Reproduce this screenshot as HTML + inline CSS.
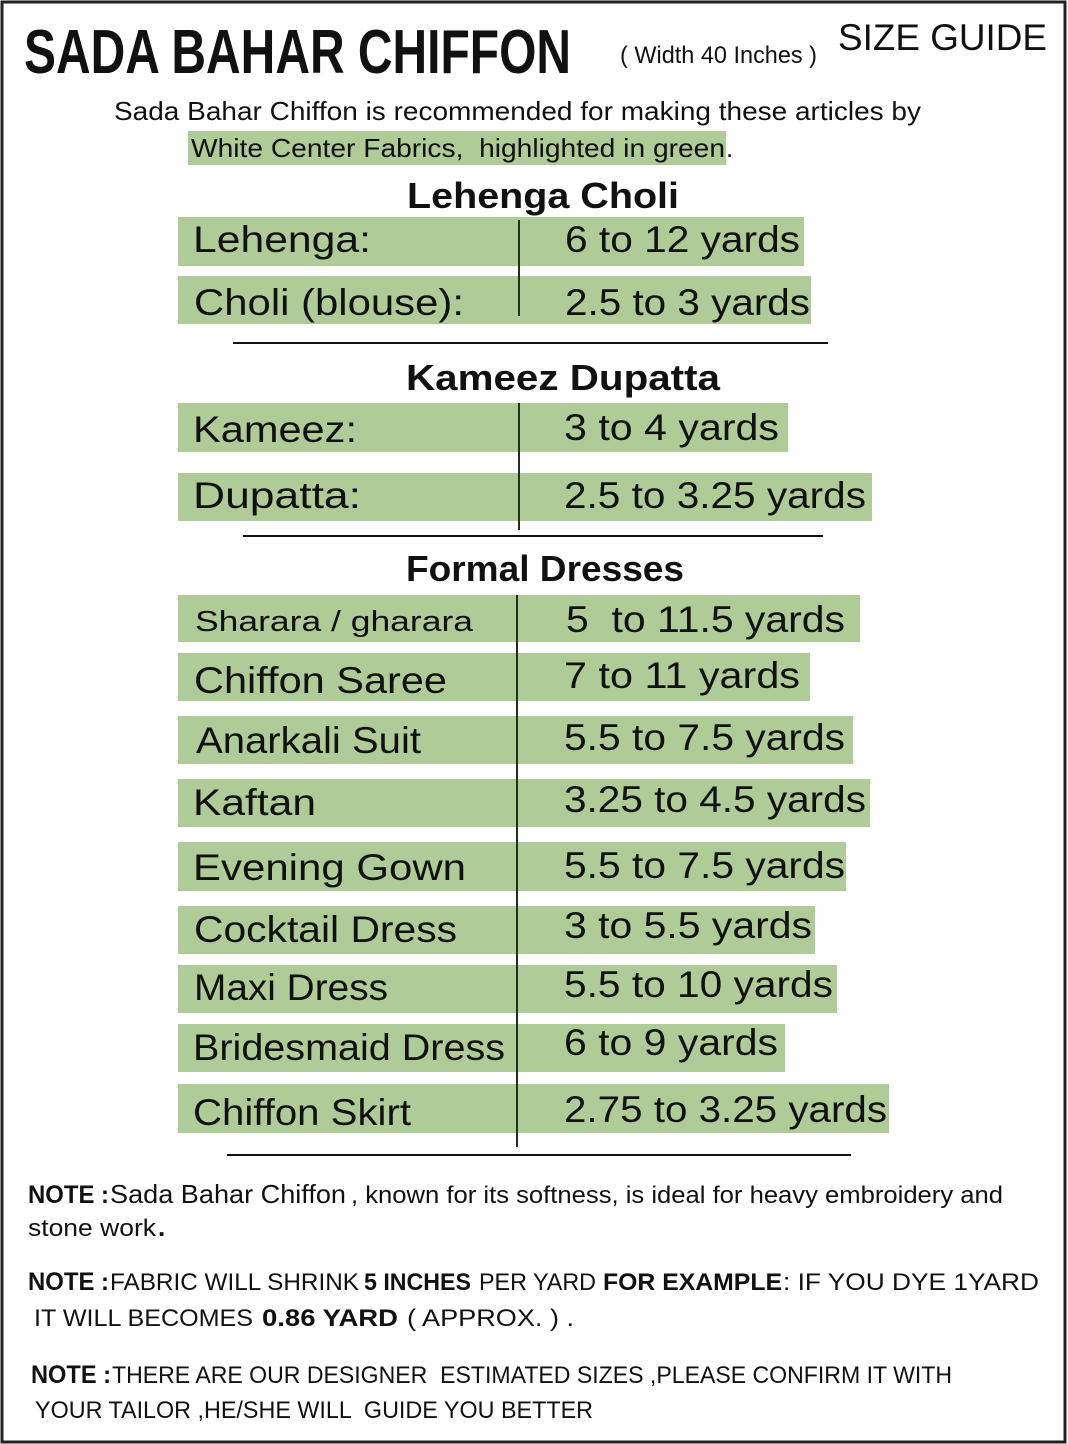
<!DOCTYPE html>
<html>
<head>
<meta charset="utf-8">
<style>
  html,body{margin:0;padding:0;background:#fff;}
  svg{display:block;}
  text{font-family:"Liberation Sans",sans-serif;fill:#111;white-space:pre;}
  .b{font-weight:bold;}
  .row{font-size:37px;}
</style>
</head>
<body>
<svg width="1068" height="1444" viewBox="0 0 1068 1444" xmlns="http://www.w3.org/2000/svg" xml:space="preserve">
  <rect x="0" y="0" width="1068" height="1444" fill="#fff"/>
  <rect x="2" y="2" width="1063" height="1440" fill="none" stroke="#222" stroke-width="3"/>

  <text class="b" x="24" y="73" font-size="62" textLength="547" lengthAdjust="spacingAndGlyphs">SADA BAHAR CHIFFON</text>
  <text x="620" y="63" font-size="24" textLength="197" lengthAdjust="spacingAndGlyphs">( Width 40 Inches )</text>
  <text x="838" y="50" font-size="37" textLength="209" lengthAdjust="spacingAndGlyphs">SIZE GUIDE</text>

  <text x="114" y="120" font-size="26" textLength="807" lengthAdjust="spacingAndGlyphs">Sada Bahar Chiffon is recommended for making these articles by</text>
  <rect x="188" y="131" width="538" height="34" fill="#afcb97"/>
  <text x="191" y="157" font-size="26" textLength="534" lengthAdjust="spacingAndGlyphs">White Center Fabrics,  highlighted in green</text>
  <text x="726" y="157" font-size="26">.</text>

  <text class="b" x="407" y="208" font-size="36" textLength="272" lengthAdjust="spacingAndGlyphs">Lehenga Choli</text>
  <rect x="178" y="217" width="626" height="49" fill="#afcb97"/>
  <rect x="178" y="276" width="633" height="48" fill="#afcb97"/>
  <text class="row" x="193" y="252" textLength="178" lengthAdjust="spacingAndGlyphs">Lehenga:</text>
  <text class="row" x="565" y="252" textLength="235" lengthAdjust="spacingAndGlyphs">6 to 12 yards</text>
  <text class="row" x="194" y="315" textLength="270" lengthAdjust="spacingAndGlyphs">Choli (blouse):</text>
  <text class="row" x="565" y="315" textLength="245" lengthAdjust="spacingAndGlyphs">2.5 to 3 yards</text>
  <line x1="519" y1="220" x2="519" y2="316" stroke="#1e3318" stroke-width="2"/>
  <line x1="233" y1="343" x2="828" y2="343" stroke="#111" stroke-width="2"/>

  <text class="b" x="406" y="390" font-size="36" textLength="314" lengthAdjust="spacingAndGlyphs">Kameez Dupatta</text>
  <rect x="178" y="403" width="610" height="49" fill="#afcb97"/>
  <rect x="178" y="473" width="694" height="48" fill="#afcb97"/>
  <text class="row" x="193" y="442" textLength="164" lengthAdjust="spacingAndGlyphs">Kameez:</text>
  <text class="row" x="564" y="440" textLength="215" lengthAdjust="spacingAndGlyphs">3 to 4 yards</text>
  <text class="row" x="193" y="508" textLength="168" lengthAdjust="spacingAndGlyphs">Dupatta:</text>
  <text class="row" x="564" y="508" textLength="302" lengthAdjust="spacingAndGlyphs">2.5 to 3.25 yards</text>
  <line x1="519" y1="403" x2="519" y2="530" stroke="#1e3318" stroke-width="2"/>
  <line x1="243" y1="536" x2="823" y2="536" stroke="#111" stroke-width="2"/>

  <text class="b" x="406" y="581" font-size="36" textLength="278" lengthAdjust="spacingAndGlyphs">Formal Dresses</text>

  <rect x="178" y="595" width="682" height="47" fill="#afcb97"/>
  <rect x="178" y="653" width="632" height="48" fill="#afcb97"/>
  <rect x="178" y="716" width="675" height="48" fill="#afcb97"/>
  <rect x="178" y="779" width="692" height="48" fill="#afcb97"/>
  <rect x="178" y="842" width="668" height="49" fill="#afcb97"/>
  <rect x="178" y="906" width="637" height="48" fill="#afcb97"/>
  <rect x="178" y="965" width="659" height="48" fill="#afcb97"/>
  <rect x="178" y="1024" width="607" height="48" fill="#afcb97"/>
  <rect x="178" y="1084" width="711" height="49" fill="#afcb97"/>

  <text x="195" y="631" font-size="29" textLength="278" lengthAdjust="spacingAndGlyphs">Sharara / gharara</text>
  <text class="row" x="566" y="632" textLength="279" lengthAdjust="spacingAndGlyphs">5  to 11.5 yards</text>

  <text class="row" x="194" y="693" textLength="253" lengthAdjust="spacingAndGlyphs">Chiffon Saree</text>
  <text class="row" x="564" y="688" textLength="236" lengthAdjust="spacingAndGlyphs">7 to 11 yards</text>

  <text class="row" x="196" y="753" textLength="225" lengthAdjust="spacingAndGlyphs">Anarkali Suit</text>
  <text class="row" x="564" y="750" textLength="281" lengthAdjust="spacingAndGlyphs">5.5 to 7.5 yards</text>

  <text class="row" x="193" y="815" textLength="123" lengthAdjust="spacingAndGlyphs">Kaftan</text>
  <text class="row" x="564" y="812" textLength="302" lengthAdjust="spacingAndGlyphs">3.25 to 4.5 yards</text>

  <text class="row" x="193" y="880" textLength="273" lengthAdjust="spacingAndGlyphs">Evening Gown</text>
  <text class="row" x="564" y="878" textLength="281" lengthAdjust="spacingAndGlyphs">5.5 to 7.5 yards</text>

  <text class="row" x="194" y="942" textLength="263" lengthAdjust="spacingAndGlyphs">Cocktail Dress</text>
  <text class="row" x="564" y="938" textLength="248" lengthAdjust="spacingAndGlyphs">3 to 5.5 yards</text>

  <text class="row" x="194" y="1000" textLength="194" lengthAdjust="spacingAndGlyphs">Maxi Dress</text>
  <text class="row" x="564" y="997" textLength="269" lengthAdjust="spacingAndGlyphs">5.5 to 10 yards</text>

  <text class="row" x="193" y="1060" textLength="312" lengthAdjust="spacingAndGlyphs">Bridesmaid Dress</text>
  <text class="row" x="564" y="1055" textLength="214" lengthAdjust="spacingAndGlyphs">6 to 9 yards</text>

  <text class="row" x="193" y="1125" textLength="218" lengthAdjust="spacingAndGlyphs">Chiffon Skirt</text>
  <text class="row" x="564" y="1122" textLength="323" lengthAdjust="spacingAndGlyphs">2.75 to 3.25 yards</text>

  <line x1="517" y1="595" x2="517" y2="1147" stroke="#1e3318" stroke-width="2"/>
  <line x1="227" y1="1155" x2="851" y2="1155" stroke="#111" stroke-width="2"/>

  <text class="b" x="28" y="1203" font-size="25" textLength="81" lengthAdjust="spacingAndGlyphs">NOTE :</text>
  <text x="110" y="1203" font-size="26" textLength="236" lengthAdjust="spacingAndGlyphs">Sada Bahar Chiffon</text>
  <text x="351" y="1203" font-size="24" textLength="652" lengthAdjust="spacingAndGlyphs">, known for its softness, is ideal for heavy embroidery and</text>
  <text x="28" y="1236" font-size="24" textLength="128" lengthAdjust="spacingAndGlyphs">stone work</text>
  <text class="b" x="158" y="1236" font-size="26">.</text>

  <text class="b" x="28" y="1290" font-size="25" textLength="81" lengthAdjust="spacingAndGlyphs">NOTE :</text>
  <text x="110" y="1290" font-size="24" textLength="249" lengthAdjust="spacingAndGlyphs">FABRIC WILL SHRINK</text>
  <text class="b" x="364" y="1290" font-size="24" textLength="107" lengthAdjust="spacingAndGlyphs">5 INCHES</text>
  <text x="479" y="1290" font-size="24" textLength="117" lengthAdjust="spacingAndGlyphs">PER YARD</text>
  <text class="b" x="603" y="1290" font-size="24" textLength="179" lengthAdjust="spacingAndGlyphs">FOR EXAMPLE</text>
  <text x="783" y="1290" font-size="24" textLength="256" lengthAdjust="spacingAndGlyphs">: IF YOU DYE 1YARD</text>

  <text x="34" y="1326" font-size="24" textLength="219" lengthAdjust="spacingAndGlyphs">IT WILL BECOMES</text>
  <text class="b" x="262" y="1326" font-size="24" textLength="136" lengthAdjust="spacingAndGlyphs">0.86 YARD</text>
  <text x="407" y="1326" font-size="24" textLength="167" lengthAdjust="spacingAndGlyphs">( APPROX. ) .</text>

  <text class="b" x="31" y="1383" font-size="25" textLength="80" lengthAdjust="spacingAndGlyphs">NOTE :</text>
  <text x="112" y="1383" font-size="24" textLength="840" lengthAdjust="spacingAndGlyphs">THERE ARE OUR DESIGNER  ESTIMATED SIZES ,PLEASE CONFIRM IT WITH</text>
  <text x="35" y="1418" font-size="24" textLength="558" lengthAdjust="spacingAndGlyphs">YOUR TAILOR ,HE/SHE WILL  GUIDE YOU BETTER</text>
</svg>
</body>
</html>
